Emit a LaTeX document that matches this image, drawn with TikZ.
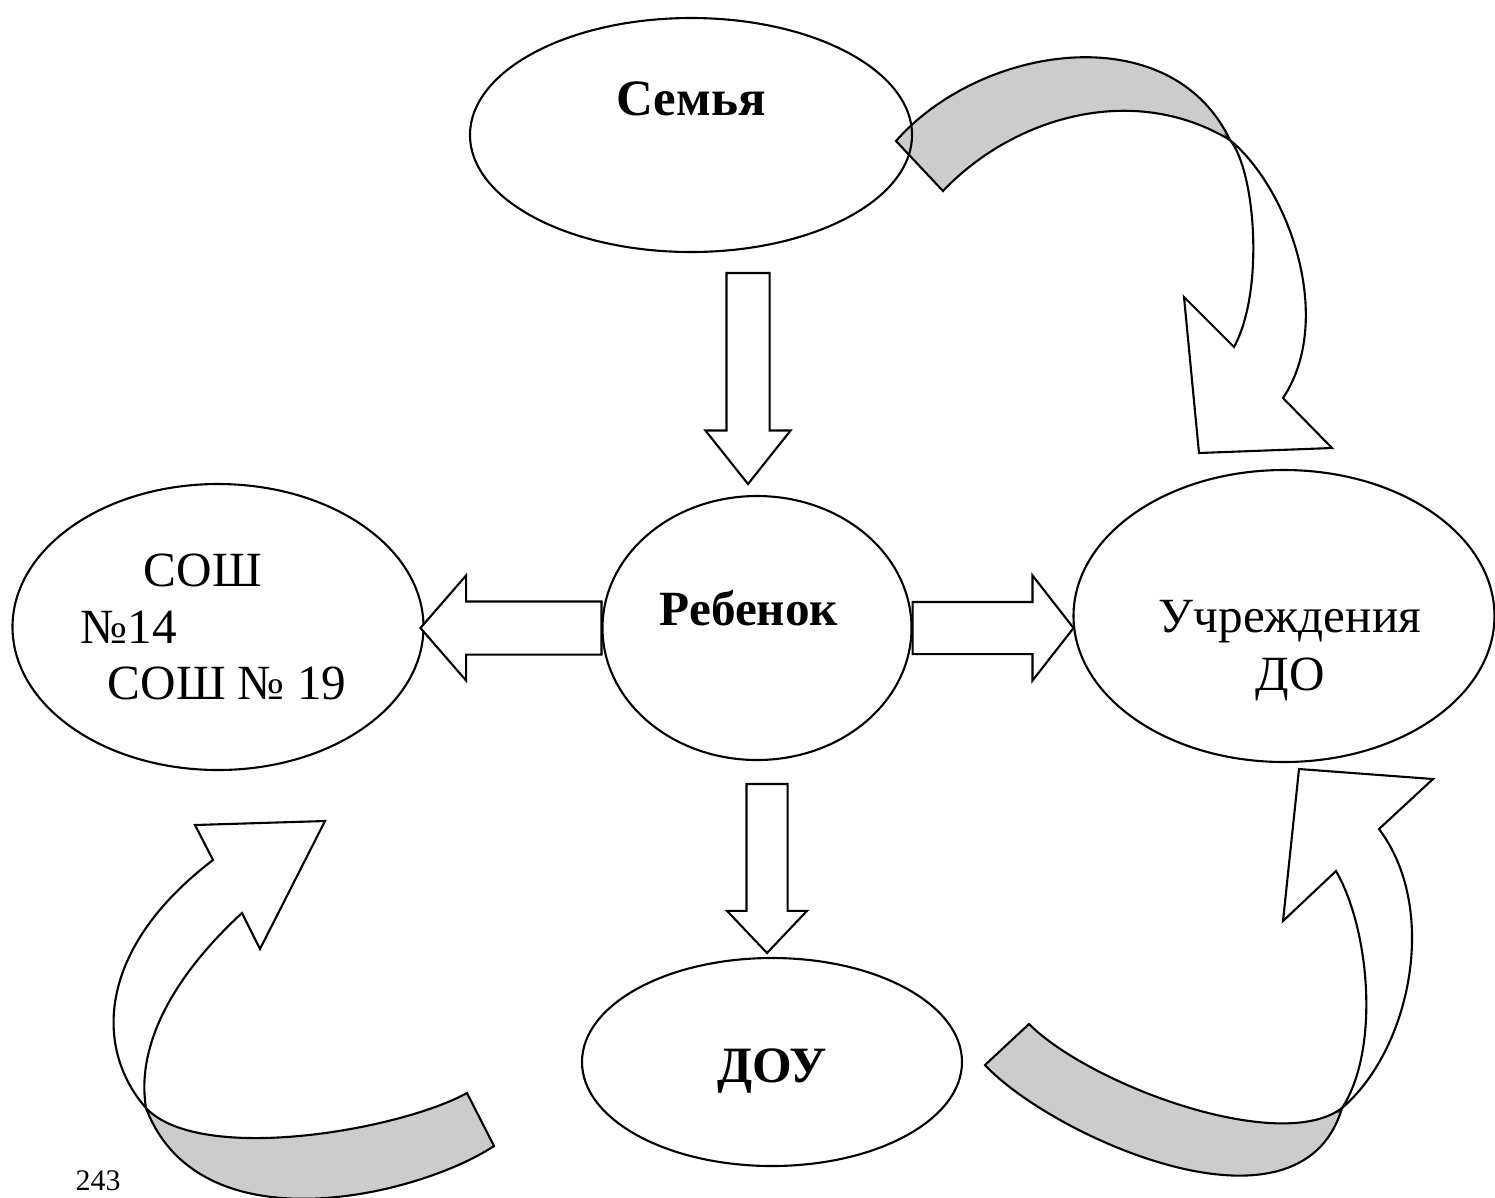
\documentclass[tikz,border=0pt]{standalone}
\usepackage{fontspec}
\setmainfont{Liberation Serif}
\usepackage{tikz}
\usetikzlibrary{shapes,positioning}
\definecolor{ribbongray}{RGB}{204,204,204}
\tikzstyle{unit} = [ellipse, draw, line width=0.6pt, inner sep=0pt]
\tikzstyle{unitlabel} = [font=\fontsize{14}{16.5}\selectfont, align=center, inner sep=0pt]
\tikzstyle{blockarrow} = [single arrow, draw, fill=white, line width=0.6pt, inner xsep=0pt, outer sep=0pt]
\tikzstyle{ribbon} = [draw, line width=0.6pt, line join=miter]

\begin{document}
\begin{tikzpicture}
\useasboundingbox (0,0) rectangle (14.95,-11.97);

% Curved arrows (ribbons)
\draw[ribbon, fill=ribbongray] (8.96,-1.41) .. controls (9.80,-0.45) and (11.70,-0.15) .. (12.30,-1.40) .. controls (11.30,-0.80) and (10.10,-1.20) .. (9.43,-1.91) -- cycle;
\draw[ribbon, fill=white] (12.30,-1.40) .. controls (12.90,-1.90) and (13.35,-3.20) .. (12.83,-3.98) -- (13.32,-4.48) -- (11.99,-4.53) -- (11.84,-2.97) -- (12.34,-3.47) .. controls (12.65,-2.90) and (12.55,-1.70) .. (12.30,-1.40) -- cycle;

\draw[ribbon, fill=ribbongray] (9.85,-10.65) .. controls (10.50,-11.35) and (13.00,-12.50) .. (13.42,-11.08) .. controls (12.80,-11.55) and (10.90,-10.85) .. (10.29,-10.24) -- cycle;
\draw[ribbon, fill=white] (13.42,-11.08) .. controls (14.10,-10.50) and (14.40,-9.10) .. (13.79,-8.29) -- (14.33,-7.79) -- (12.99,-7.69) -- (12.83,-9.21) -- (13.36,-8.71) .. controls (13.70,-9.30) and (13.80,-10.50) .. (13.42,-11.08) -- cycle;

\draw[ribbon, fill=ribbongray] (4.67,-10.93) .. controls (4.00,-11.30) and (2.00,-11.65) .. (1.46,-11.08) .. controls (2.00,-12.50) and (4.20,-11.95) .. (4.94,-11.46) -- cycle;
\draw[ribbon, fill=white] (1.46,-11.08) .. controls (0.95,-10.50) and (0.95,-9.50) .. (2.13,-8.60) -- (1.95,-8.25) -- (3.25,-8.21) -- (2.60,-9.49) -- (2.42,-9.13) .. controls (1.80,-9.70) and (1.35,-10.40) .. (1.46,-11.08) -- cycle;

% Ellipses
\node[unit, minimum width=4.42cm, minimum height=2.34cm] (semya) at (6.91,-1.35) {};
\node[unit, minimum width=3.09cm, minimum height=2.64cm] (rebenok) at (7.57,-6.28) {};
\node[unit, minimum width=4.11cm, minimum height=2.86cm] (sosh) at (2.18,-6.27) {};
\node[unit, minimum width=4.21cm, minimum height=2.92cm] (uchr) at (12.84,-6.16) {};
\node[unit, minimum width=3.80cm, minimum height=2.08cm] (dou) at (7.72,-10.62) {};

% Texts
\node[unitlabel, font=\fontsize{14.5}{16.5}\selectfont\bfseries] (semyatxt) at ([yshift=0.36cm]semya.center) {Семья};
\node[unitlabel, font=\fontsize{14}{16.5}\selectfont\bfseries] (rebenoktxt) at ([xshift=-0.08cm, yshift=0.20cm]rebenok.center) {Ребенок};
\node[unitlabel, font=\fontsize{14}{16}\selectfont, align=left, anchor=west] (soshtxt) at (0.80,-6.27) {\hspace*{0.63cm}СОШ\\№14\\\hspace*{0.27cm}СОШ № 19};
\node[unitlabel] (uchrtxt) at ([xshift=0.06cm, yshift=-0.35cm]uchr.center) {Учреждения\\ДО};
\node[unitlabel, font=\fontsize{14.5}{16.5}\selectfont\bfseries] (doutxt) at ([yshift=-0.09cm]dou.center) {ДОУ};

% Block arrows from Ребенок
\node[blockarrow, rotate=-90, anchor=tip, minimum height=2.11cm, inner ysep=0.205cm, single arrow head extend=0.21cm, single arrow tip angle=77] (fromsemya) at (7.48,-4.84) {};
\node[blockarrow, rotate=-90, anchor=tip, minimum height=1.69cm, inner ysep=0.195cm, single arrow head extend=0.195cm, single arrow tip angle=87] (todou) at (7.67,-9.53) {};
\node[blockarrow, rotate=180, anchor=tail, minimum height=1.81cm, inner ysep=0.255cm, single arrow head extend=0.26cm, single arrow tip angle=98] (tososh) at (rebenok.west) {};
\node[blockarrow, anchor=tail, minimum height=1.61cm, inner ysep=0.25cm, single arrow head extend=0.265cm, single arrow tip angle=104] (touchr) at (rebenok.east) {};

% Page number
\node[anchor=base west, inner sep=0pt, font=\fontsize{8.5}{10}\selectfont] (pagenum) at (0.75,-11.90) {243};
\end{tikzpicture}
\end{document}
